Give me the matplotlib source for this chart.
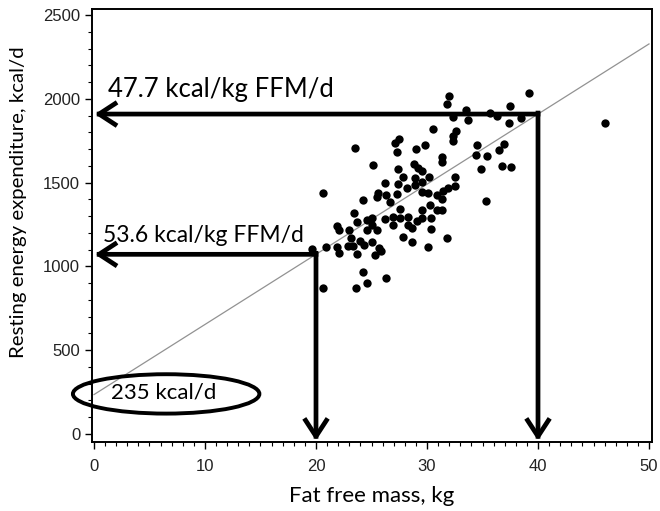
import matplotlib
matplotlib.use("Agg")
import matplotlib.pyplot as plt
from matplotlib.patches import Ellipse
from matplotlib.ticker import MultipleLocator

ffm = [31.98, 31.80, 39.19, 37.48, 33.51, 32.34, 33.69, 35.68, 36.31, 37.39,
       38.47, 30.54, 32.61, 32.34, 32.34, 27.48, 27.12, 27.30, 23.51, 29.01,
       29.82, 34.50, 34.41, 35.41, 36.94, 36.49, 31.35, 31.35, 25.14, 27.39,
       28.83, 29.19, 29.55, 34.86, 36.76, 37.57, 27.84, 30.18, 32.52, 20.63,
       26.22, 27.39, 28.20, 28.92, 28.92, 29.55, 32.52, 31.89, 31.44, 30.90,
       31.35, 30.09, 29.55, 25.59, 26.31, 27.30, 26.67, 24.23, 25.50, 27.57,
       30.27, 30.90, 31.35, 29.55, 35.32, 23.42, 23.69, 24.59, 25.05, 26.22,
       26.94, 27.57, 28.29, 29.10, 29.55, 30.36, 25.05, 24.59, 25.50, 21.89,
       22.07, 22.97, 26.94, 28.29, 28.65, 30.36, 23.15, 23.96, 24.32, 22.88,
       23.33, 25.05, 25.68, 25.86, 21.89, 22.07, 23.69, 25.32, 27.84, 28.65,
       30.09, 31.80, 20.90, 19.64, 24.23, 24.59, 23.60, 26.31, 20.63, 46.04]
ree = [2017, 1969, 2035, 1957, 1933, 1891, 1874, 1915, 1897, 1856,
       1885, 1820, 1808, 1778, 1748, 1760, 1736, 1683, 1706, 1700,
       1724, 1724, 1665, 1659, 1730, 1695, 1653, 1623, 1605, 1581,
       1611, 1587, 1569, 1581, 1599, 1593, 1533, 1533, 1533, 1438,
       1498, 1492, 1468, 1486, 1527, 1504, 1480, 1468, 1450, 1426,
       1402, 1438, 1444, 1438, 1426, 1432, 1384, 1396, 1414, 1342,
       1366, 1337, 1337, 1337, 1390, 1319, 1265, 1277, 1289, 1283,
       1295, 1289, 1295, 1271, 1289, 1289, 1247, 1217, 1217, 1241,
       1217, 1217, 1247, 1247, 1229, 1223, 1169, 1152, 1128, 1122,
       1122, 1146, 1110, 1092, 1116, 1080, 1074, 1068, 1175, 1146,
       1116, 1169, 1116, 1104, 967, 901, 871, 931, 871, 1856]

intercept = 235
slope = 41.85
marked_ffm = [20, 40]
marked_labels = ["53.6 kcal/kg FFM/d", "47.7 kcal/kg FFM/d"]
intercept_label = "235 kcal/d"
xlabel = "Fat free mass, kg"
ylabel = "Resting energy expenditure, kcal/d"

fig = plt.figure(figsize=(6.6, 5.11), dpi=100)
ax = fig.add_axes([92/660, 1-442/511, 560/660, 433/511])
ax.set_xlim(-0.18, 50.27)
ax.set_ylim(-48, 2536)

# regression line
ax.plot([0, 50], [intercept, intercept + slope*50], color="#929292", lw=0.9, zorder=2)

ax.scatter(ffm, ree, s=36, color="black", zorder=3, linewidths=0)

# arrows
ymin = ax.get_ylim()[0]
xmin = ax.get_xlim()[0]
for xm, lab, fs, dy, tx in zip(marked_ffm, marked_labels, [16.5, 18.5], [74, 100], [0.8, 1.25]):
    yv = intercept + slope*xm
    ap = dict(arrowstyle="->,head_length=1.15,head_width=0.75", lw=3.4, color="black",
              shrinkA=0, shrinkB=0, capstyle="projecting")
    ax.annotate("", xy=(xmin+0.25, yv), xytext=(xm, yv), arrowprops=ap, zorder=4)
    ax.annotate("", xy=(xm, ymin+8), xytext=(xm, yv+6), arrowprops=ap, zorder=4)
    ax.text(tx, yv + dy, lab, fontsize=fs, family="Lato", ha="left", va="baseline", zorder=5)

# intercept ellipse
ax.add_patch(Ellipse((6.5, 239), width=16.8, height=235, fill=False, lw=2.8,
                     edgecolor="black", zorder=4, clip_on=False))
ax.text(6.3, 245, intercept_label, fontsize=16, family="Lato", ha="center", va="center", zorder=5)

ax.set_xticks(range(0, 51, 10))
ax.set_yticks(range(0, 2501, 500))
ax.xaxis.set_minor_locator(MultipleLocator(1))
ax.yaxis.set_minor_locator(MultipleLocator(100))
ax.tick_params(which="major", direction="out", length=5, width=1, labelsize=12,
               labelcolor="#222222")
ax.tick_params(axis="x", which="major", pad=7)
ax.tick_params(which="minor", direction="out", length=3, width=0.8)
for lbl in ax.get_xticklabels() + ax.get_yticklabels():
    lbl.set_family("Liberation Sans")
for sp in ax.spines.values():
    sp.set_linewidth(1.4)

ax.set_xlabel(xlabel, fontsize=16, family="Lato", labelpad=9)
ax.set_ylabel(ylabel, fontsize=14.7, family="Lato")
ax.yaxis.set_label_coords(-0.116, 0.555)

fig.savefig("out.png", dpi=100)
